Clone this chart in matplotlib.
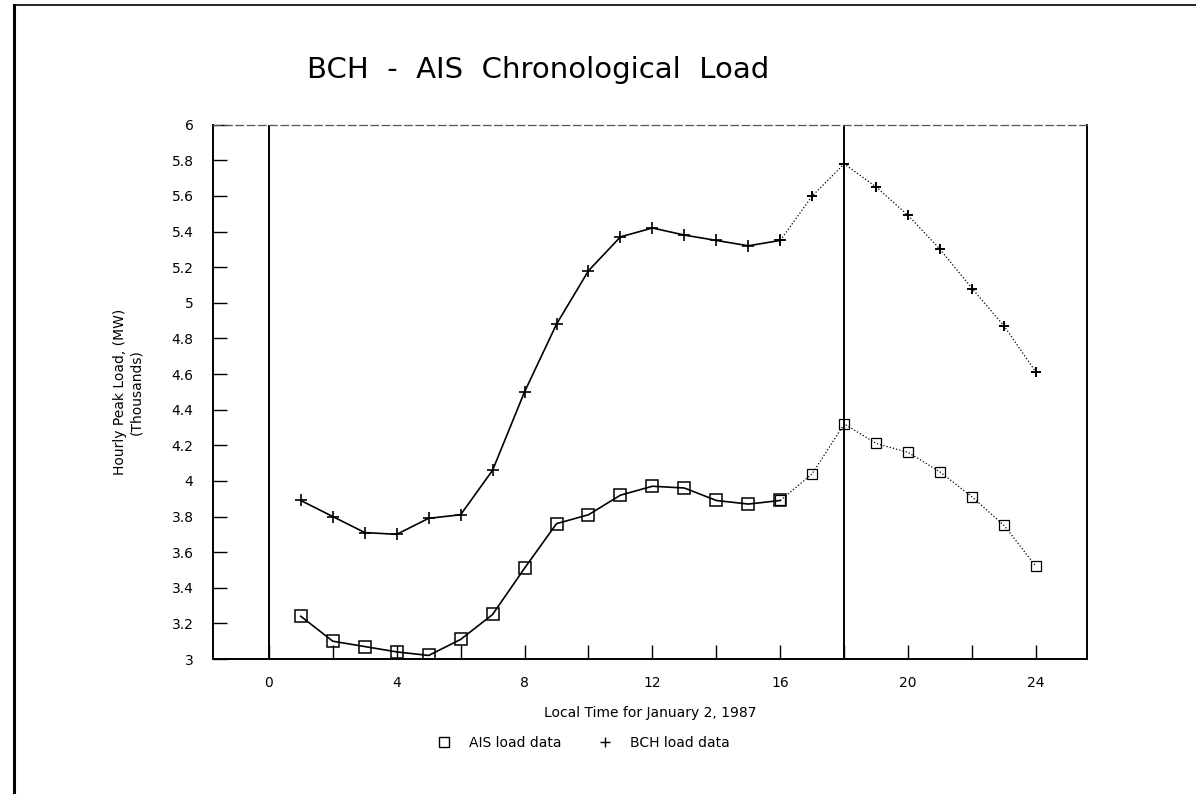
import matplotlib
matplotlib.use("Agg")
import matplotlib.pyplot as plt
from matplotlib.lines import Line2D
from matplotlib.ticker import FuncFormatter

hours = list(range(1, 25))
# BCH load data (thousands MW)
bch_load = [3.89, 3.80, 3.71, 3.70, 3.79, 3.81, 4.06, 4.50, 4.88, 5.18, 5.37, 5.42,
            5.38, 5.35, 5.32, 5.35, 5.60, 5.78, 5.65, 5.49, 5.30, 5.08, 4.87, 4.61]
# AIS load data (thousands MW)
ais_load = [3.24, 3.10, 3.07, 3.04, 3.02, 3.11, 3.25, 3.51, 3.76, 3.81, 3.92, 3.97,
            3.96, 3.89, 3.87, 3.89, 4.04, 4.32, 4.21, 4.16, 4.05, 3.91, 3.75, 3.52]
x_major = [0, 4, 8, 12, 16, 20, 24]
x_minor = [2, 6, 10, 14, 18, 22]
y_ticks = [3.0, 3.2, 3.4, 3.6, 3.8, 4.0, 4.2, 4.4, 4.6, 4.8, 5.0, 5.2, 5.4, 5.6, 5.8, 6.0]
ref_lines = [0, 18]

plt.rcParams["font.family"] = ["DejaVu Sans"]
fig = plt.figure(figsize=(11.96, 7.94), dpi=100)
ax = fig.add_axes([0.178, 0.170, 0.731, 0.673])

# solid first part, faded (dotted) after hour 16 like the photocopy
split = 16
ax.plot(hours[:split], bch_load[:split], color="black", lw=1.2,
        marker="+", ms=8, mew=1.2)
ax.plot(hours[split - 1:], bch_load[split - 1:], color="black", lw=0.9, ls=":",
        marker="+", ms=7, mew=1.4)
ax.plot(hours[:split], ais_load[:split], color="black", lw=1.2,
        marker="s", ms=9, mfc="none", mew=1.1)
ax.plot(hours[split - 1:], ais_load[split - 1:], color="black", lw=0.9, ls=":",
        marker="s", ms=7, mfc="none", mew=0.9)

for xv in ref_lines:
    ax.axvline(xv, color="black", lw=1.4)

ax.set_xlim(-1.75, 25.6)
ax.set_ylim(3, 6)
ax.set_xticks(x_major)
ax.set_xticks(x_minor, minor=True)
ax.set_yticks(y_ticks)
ax.yaxis.set_major_formatter(FuncFormatter(lambda v, p: f"{v:g}"))
ax.tick_params(axis="both", which="both", direction="in", length=10, width=1,
               labelsize=10)
ax.tick_params(axis="x", pad=12)
ax.tick_params(axis="y", pad=14)

for side in ["left", "bottom", "right"]:
    ax.spines[side].set_linewidth(1.4)
ax.spines["top"].set_linewidth(0.9)
ax.spines["top"].set_linestyle((0, (6, 3)))
ax.spines["top"].set_color("#555555")

ax.set_ylabel("Hourly Peak Load, (MW)\n(Thousands)", fontsize=10, labelpad=20)
ax.set_xlabel("Local Time for January 2, 1987", fontsize=10, labelpad=12)

fig.text(0.45, 0.912, "BCH  -  AIS  Chronological  Load", fontsize=21,
         ha="center", va="center")

handles = [
    Line2D([], [], color="black", ls="none", marker="s", ms=7, mfc="none"),
    Line2D([], [], color="black", ls="none", marker="+", ms=7),
]
fig.legend(handles, ["AIS load data", "BCH load data"], loc="center",
           bbox_to_anchor=(0.487, 0.064), ncol=2, frameon=False, fontsize=10,
           handlelength=1.2, columnspacing=2.5, handletextpad=1.2)

# page border (left and top edges)
fig.add_artist(Line2D([0.012, 0.012], [0.0, 0.994], color="black", lw=2.2))
fig.add_artist(Line2D([0.012, 1.0], [0.994, 0.994], color="black", lw=1.2))

fig.savefig("out.png", dpi=100)
